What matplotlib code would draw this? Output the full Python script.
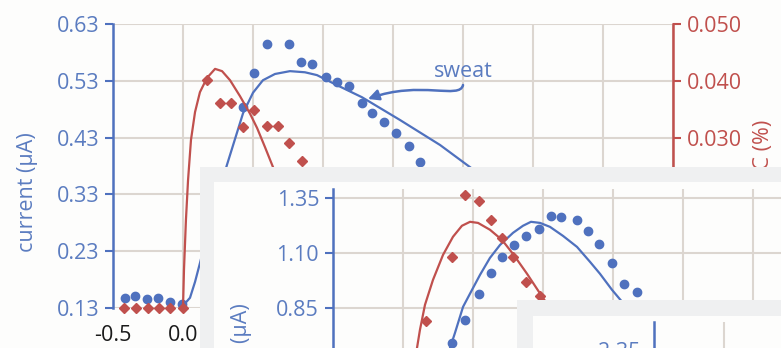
import matplotlib.pyplot as plt
from matplotlib.patches import Rectangle, FancyArrowPatch
from matplotlib.path import Path

plt.rcParams['font.family'] = ['Open Sans', 'DejaVu Sans']

# main panel: time (h), current (uA) and BAC (%)
main_t_blue = [-0.414, -0.343, -0.257, -0.179, -0.093, -0.007, 0.429, 0.507, 0.600, 0.757,
               0.843, 0.921, 1.021, 1.100, 1.186, 1.279, 1.350, 1.436, 1.521, 1.614, 1.693]
main_current = [0.148, 0.151, 0.146, 0.148, 0.141, 0.137, 0.484, 0.544, 0.595, 0.595,
                0.563, 0.560, 0.537, 0.528, 0.521, 0.491, 0.473, 0.457, 0.438, 0.415, 0.387]
main_fit_t_blue = [0.0, 0.05, 0.086, 0.121, 0.214, 0.314, 0.429, 0.5, 0.571, 0.657, 0.764,
                   0.871, 0.957, 1.086, 1.279, 1.55, 1.836, 2.05, 2.2]
main_fit_current = [0.134, 0.148, 0.176, 0.209, 0.299, 0.382, 0.473, 0.509, 0.531, 0.542, 0.547,
                    0.545, 0.540, 0.524, 0.501, 0.461, 0.417, 0.378, 0.35]

main_t_red = [-0.421, -0.336, -0.25, -0.171, -0.093, 0.0, 0.171, 0.264, 0.343, 0.429,
              0.507, 0.600, 0.679, 0.757, 0.850]
main_bac = [0, 0, 0, 0, 0, 0, 0.0401, 0.0361, 0.0361, 0.0319,
            0.0349, 0.0320, 0.0320, 0.0290, 0.0259]
main_fit_t_red = [0.0, 0.007, 0.021, 0.036, 0.057, 0.086, 0.121, 0.171, 0.229, 0.279, 0.336,
                  0.407, 0.479, 0.529, 0.586, 0.643, 0.693]
main_fit_bac = [0.0, 0.0067, 0.0155, 0.0225, 0.0296, 0.0345, 0.0380, 0.0405, 0.0421, 0.0417,
                0.0401, 0.0373, 0.0342, 0.0317, 0.0283, 0.0248, 0.0217]

# first inset
ins_t_red = [0.164, 0.350, 0.443, 0.543, 0.629, 0.707, 0.786, 0.879, 0.979]
ins_red = [0.791, 1.082, 1.364, 1.336, 1.250, 1.168, 1.082, 0.968, 0.905]
ins_t_blue = [0.350, 0.443, 0.543, 0.629, 0.707, 0.793, 0.879, 0.971, 1.057, 1.129,
              1.243, 1.321, 1.400, 1.493, 1.579, 1.671]
ins_blue = [0.691, 0.795, 0.914, 1.009, 1.082, 1.136, 1.177, 1.209, 1.268, 1.264,
            1.250, 1.200, 1.141, 1.055, 0.959, 0.923]
ins_fit_t_red = [0.079, 0.1, 0.121, 0.157, 0.214, 0.286, 0.357, 0.421, 0.479, 0.536, 0.621,
                 0.707, 0.786, 0.886, 1.0, 1.086]
ins_fit_red = [0.59, 0.668, 0.75, 0.864, 0.977, 1.091, 1.173, 1.223, 1.241, 1.236, 1.205,
               1.159, 1.095, 1.005, 0.895, 0.818]
ins_fit_t_blue = [0.321, 0.336, 0.371, 0.429, 0.493, 0.55, 0.621, 0.693, 0.786, 0.857, 0.914,
                  0.979, 1.05, 1.143, 1.243, 1.336, 1.407, 1.493, 1.571, 1.657, 1.764]
ins_fit_blue = [0.59, 0.668, 0.736, 0.855, 0.932, 1.0, 1.077, 1.136, 1.191, 1.223, 1.241,
                1.236, 1.218, 1.177, 1.127, 1.059, 1.005, 0.932, 0.873, 0.795, 0.705]

x_ticks = [-0.5, 0.0, 0.5, 1.0, 1.5, 2.0, 2.5, 3.0, 3.5]
main_yticks = [0.13, 0.23, 0.33, 0.43, 0.53, 0.63]
bac_ticks = [0.0, 0.01, 0.02, 0.03, 0.04, 0.05]
ins_yticks = [0.85, 1.10, 1.35]
ins2_yticks = [2.35]

BLUE = '#4f71be'
BLUE_TXT = '#5b7cc0'
RED = '#c0504d'
GRID = '#dcd6d0'
FS = 15.5

W, H = 781, 348
fig = plt.figure(figsize=(W / 100, H / 100), dpi=100, facecolor='#fdfdfc')


def rect(l, t, r, b):
    return [l / W, 1 - b / H, (r - l) / W, (b - t) / H]


def box(l, t, color, z):
    fig.add_artist(Rectangle((l / W, 1 - 500 / H), (1000 - l) / W, (500 - t) / H,
                             transform=fig.transFigure, facecolor=color,
                             edgecolor='none', zorder=z))


def style(ax, yticks, fmt):
    ax.set_facecolor('none')
    ax.set_xlim(-0.5, 3.5)
    ax.set_xticks(x_ticks)
    ax.set_yticks(yticks)
    ax.set_yticklabels([fmt % v for v in yticks])
    ax.grid(True, color=GRID, lw=1.5)
    ax.set_axisbelow(True)
    for s in ['top', 'right', 'bottom']:
        ax.spines[s].set_visible(False)
    ax.spines['left'].set_color(BLUE)
    ax.spines['left'].set_linewidth(1.8)
    ax.tick_params(axis='y', colors=BLUE, labelcolor=BLUE_TXT, labelsize=FS,
                   length=6, width=1.5, pad=4)
    ax.tick_params(axis='x', length=0, labelsize=FS, labelcolor='#1a1a1a', pad=12)


# main chart
ax = fig.add_axes(rect(113, 24, 673, 308))
ax.set_zorder(0)
style(ax, main_yticks, '%.2f')
ax.set_ylim(0.13, 0.63)
ax.set_xticklabels(['%.1f' % v for v in x_ticks])
ax.plot(main_fit_t_blue, main_fit_current, color=BLUE, lw=1.6)
ax.plot(main_t_blue, main_current, 'o', color=BLUE, ms=6, clip_on=False)
ax.annotate('sweat', xy=(2.0, 0.547), ha='center', va='center', fontsize=FS, color=BLUE_TXT)
arrow_path = Path([(2.0, 0.5226), (1.979, 0.4962), (1.693, 0.5314), (1.321, 0.498)],
                  [Path.MOVETO, Path.CURVE4, Path.CURVE4, Path.CURVE4])
ax.add_patch(FancyArrowPatch(path=arrow_path, arrowstyle='-|>', color=BLUE, lw=1.8,
                             mutation_scale=16))

ax2 = ax.twinx()
ax2.set_ylim(0, 0.05)
ax2.set_yticks(bac_ticks)
ax2.set_yticklabels(['%.3f' % v for v in bac_ticks])
for s in ['top', 'left', 'bottom']:
    ax2.spines[s].set_visible(False)
ax2.spines['right'].set_color(RED)
ax2.spines['right'].set_linewidth(1.8)
ax2.tick_params(axis='y', colors=RED, labelsize=FS, length=6, width=1.5, pad=4)
ax2.plot(main_fit_t_red, main_fit_bac, color=RED, lw=1.6)
ax2.plot(main_t_red, main_bac, 'D', color=RED, ms=5, clip_on=False)

fig.text(28 / W, 1 - 192 / H, 'current (µA)', rotation=90, ha='center', va='center',
         fontsize=FS, color=BLUE_TXT, zorder=1)
fig.text(763 / W, 1 - 120 / H, 'BAC (%)', rotation=90, ha='center', va='top',
         fontsize=FS, color=RED, zorder=1)

# first inset
box(200, 167, '#eff0f1', 2)
box(214, 182, '#fdfdfc', 2.1)
ax3 = fig.add_axes(rect(333, 189, 893, 418))
ax3.set_zorder(3)
style(ax3, ins_yticks, '%.2f')
ax3.set_xticklabels([])
ax3.set_ylim(0.35, 1.39)
ax3.plot(ins_fit_t_red, ins_fit_red, color=RED, lw=1.6)
ax3.plot(ins_fit_t_blue, ins_fit_blue, color=BLUE, lw=1.6)
ax3.plot(ins_t_red, ins_red, 'D', color=RED, ms=5)
ax3.plot(ins_t_blue, ins_blue, 'o', color=BLUE, ms=6)
fig.text(242 / W, 1 - 303 / H, 'current (µA)', rotation=90, ha='center', va='top',
         fontsize=FS, color=BLUE_TXT, zorder=3.5)

# second inset
box(517, 300, '#eff0f1', 4)
box(533, 316, '#fdfdfc', 4.1)
ax4 = fig.add_axes(rect(654, 322, 1214, 551))
ax4.set_zorder(5)
style(ax4, ins2_yticks, '%.2f')
ax4.set_xticklabels([])
ax4.set_ylim(1.437, 2.477)

fig.savefig('out.png', dpi=100, facecolor=fig.get_facecolor())
